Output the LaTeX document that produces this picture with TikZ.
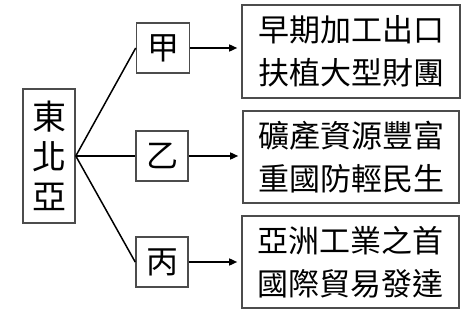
\documentclass[tikz,border=0pt]{standalone}
\usepackage{fontspec}
\newfontfamily\cjk{Noto Sans CJK TC}
\usetikzlibrary{arrows.meta}
\begin{document}
\begin{tikzpicture}[x=1pt,y=-1pt,
  box/.style={draw=black!70, line width=1.6pt, inner sep=0pt, align=center},
  conn/.style={line width=1.5pt, black},
  arr/.style={conn, shorten >=4pt, -{Triangle[length=8pt,width=7pt]}},
  bigtxt/.style={font=\cjk\fontsize{34}{40}\selectfont},
  midtxt/.style={font=\cjk\fontsize{32}{32}\selectfont},
  rtxt/.style={font=\cjk\fontsize{31}{43}\selectfont}]
\useasboundingbox (0,0) rectangle (461,318);
\node[box, bigtxt, minimum width=52pt, minimum height=134pt] (ne) at (49,156) {東\\北\\亞};
\node[box, midtxt, minimum width=53pt, minimum height=50pt] (jia) at (163,48) {甲};
\node[box, midtxt, minimum width=52pt, minimum height=50pt] (yi) at (162,156) {乙};
\node[box, midtxt, minimum width=52pt, minimum height=50pt] (bing) at (162,262) {丙};
\node[box, rtxt, minimum width=218pt, minimum height=93pt] (r1) at (351,51.5) {早期加工出口\\扶植大型財團};
\node[box, rtxt, minimum width=216pt, minimum height=92pt] (r2) at (351,157) {礦產資源豐富\\重國防輕民生};
\node[box, rtxt, minimum width=217pt, minimum height=92pt] (r3) at (350.5,262) {亞洲工業之首\\國際貿易發達};
\draw[conn] (ne.east) -- (jia.west);
\draw[conn] (ne.east) -- (yi.west);
\draw[conn] (ne.east) -- (bing.west);
\draw[arr] (jia.east) -- (r1.west |- jia.east);
\draw[arr] (yi.east) -- (r2.west |- yi.east);
\draw[arr] (bing.east) -- (r3.west |- bing.east);
\end{tikzpicture}
\end{document}
